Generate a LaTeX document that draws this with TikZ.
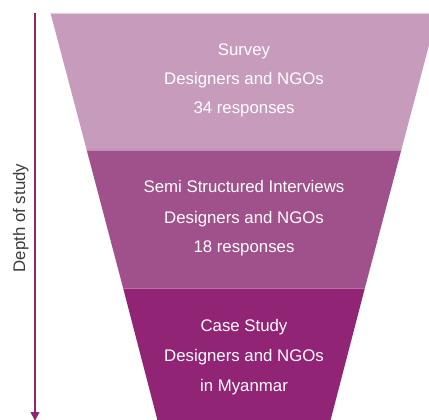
\documentclass[tikz,border=0pt]{standalone}
\usepackage{fontspec}
\setmainfont{Liberation Sans}
\usetikzlibrary{arrows.meta}
\definecolor{layerA}{RGB}{199,155,187}
\definecolor{layerB}{RGB}{160,80,138}
\definecolor{layerC}{RGB}{146,36,118}
\definecolor{arrowc}{RGB}{142,37,119}
\definecolor{labelc}{RGB}{60,60,60}
\tikzset{
  lbl/.style={text=white, anchor=base, inner sep=0pt, font=\fontsize{16.8}{19}\selectfont},
  sidelbl/.style={text=labelc, anchor=base, inner sep=0pt, rotate=90, font=\fontsize{16.8}{19}\selectfont},
  sep/.style={draw=white, draw opacity=0.35, line width=0.7pt},
  depth/.style={draw=arrowc, line width=2pt, -{Triangle[length=9pt,width=8.5pt]}}
}
\begin{document}
\begin{tikzpicture}[x=1pt,y=-1pt]
\useasboundingbox (0,0) rectangle (429,420);
\clip (0,0) rectangle (429,420);
% funnel layers: half width h(y) = 193.5 - 0.264 (y-13), centre x = 244
\fill[layerA] (50.5,13) -- (437.5,13) -- (401.3,150) -- (86.7,150) -- cycle;
\fill[layerB] (86.7,150) -- (401.3,150) -- (364.9,288) -- (123.1,288) -- cycle;
\fill[layerC] (123.1,288) -- (364.9,288) -- (329.3,425) -- (158.7,425) -- cycle;
\draw[sep] (86.7,150) -- (401.3,150);
\draw[sep] (123.1,288) -- (364.9,288);
\draw[black!15, line width=0.5pt] (50.5,13) -- (437.5,13);
% texts
\node[lbl] (a1) at (244,55.2) {Survey};
\node[lbl] (a2) at (244,84.5) {Designers and NGOs};
\node[lbl] (a3) at (244,113.6) {34 responses};
\node[lbl] (b1) at (244,193) {Semi Structured Interviews};
\node[lbl] (b2) at (244,223.2) {Designers and NGOs};
\node[lbl] (b3) at (244,252.5) {18 responses};
\node[lbl] (c1) at (244,331.8) {Case Study};
\node[lbl] (c2) at (244,361.6) {Designers and NGOs};
\node[lbl] (c3) at (244,391) {in Myanmar};
% depth arrow
\coordinate (top) at (35,13);
\coordinate (bot) at (35,421);
\draw[depth] (top) -- (bot);
\node[sidelbl] (d) at (25,218) {Depth of study};
\end{tikzpicture}
\end{document}
